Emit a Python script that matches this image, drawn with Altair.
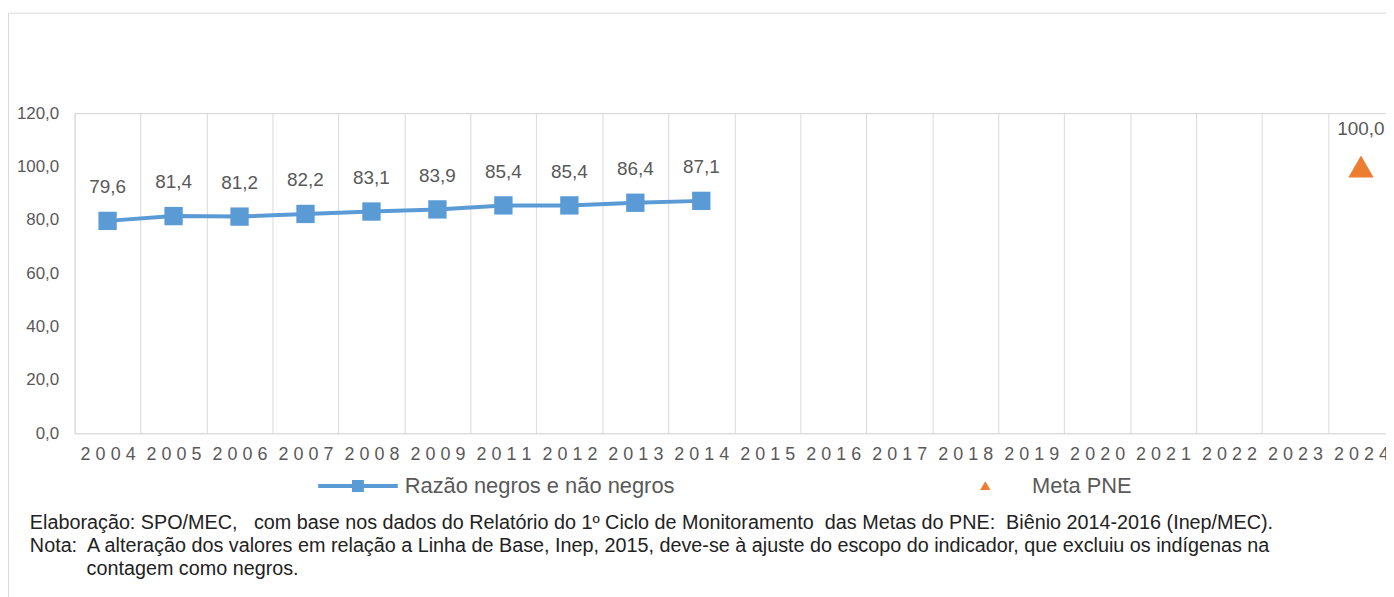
import altair as alt
import pandas as pd

years = ["2004", "2005", "2006", "2007", "2008", "2009", "2011", "2012", "2013", "2014",
         "2015", "2016", "2017", "2018", "2019", "2020", "2021", "2022", "2023", "2024"]
line_years = ["2004", "2005", "2006", "2007", "2008", "2009", "2011", "2012", "2013", "2014"]
line_values = [79.6, 81.4, 81.2, 82.2, 83.1, 83.9, 85.4, 85.4, 86.4, 87.1]
meta_years = ["2024"]
meta_values = [100.0]
series_names = ["Razão negros e não negros", "Meta PNE"]
y_ticks = [0, 20, 40, 60, 80, 100, 120]

footnote_main = [
    "Elaboração: SPO/MEC,\u00a0\u00a0 com base nos dados do Relatório do 1º Ciclo de Monitoramento\u00a0 das Metas do PNE:\u00a0 Biênio 2014-2016 (Inep/MEC).",
    "Nota:\u00a0 A alteração dos valores em relação a Linha de Base, Inep, 2015, deve-se à ajuste do escopo do indicador, que excluiu os indígenas na",
]
footnote_cont = "contagem como negros."

BLUE = "#5B9BD5"
ORANGE = "#ED7D31"
GRID = "#d9d9d9"
LABEL = "#595959"
FONT = "Liberation Sans"

line_df = pd.DataFrame({"ano": line_years, "valor": line_values, "serie": series_names[0]})
meta_df = pd.DataFrame({"ano": meta_years, "valor": meta_values, "serie": series_names[1]})
legend_df = pd.DataFrame({"ano": [line_years[0], meta_years[0]],
                          "valor": [line_values[0], meta_values[0]],
                          "serie": series_names})

x_enc = alt.X(
    "ano:N",
    sort=years,
    scale=alt.Scale(domain=years, range=[0, 1327], paddingInner=0, paddingOuter=0),
    axis=alt.Axis(
        title=None, tickBand="extent", grid=True, gridColor=GRID, gridWidth=1,
        ticks=False, domain=True, domainColor=GRID, labelAngle=0,
        labelPadding=12, labelFontSize=18, labelColor=LABEL, labelFont=FONT,
        labelExpr="join(split(datum.label, ''), '\u2009\u200a')",
    ),
)
y_enc = alt.Y(
    "valor:Q",
    scale=alt.Scale(domain=[0, 120], nice=False, zero=True),
    axis=alt.Axis(
        title=None, values=y_ticks, grid=True, gridColor=GRID,
        gridOpacity={"condition": {"test": "datum.value === 120", "value": 1}, "value": 0},
        domain=False, ticks=False, labelPadding=16, labelFontSize=17,
        labelColor=LABEL, labelFont=FONT,
        labelExpr="replace(format(datum.value, '.1f'), '.', ',')",
    ),
)

frame = alt.Chart(pd.DataFrame({"k": [0]})).mark_rect(
    fill="white", fillOpacity=0, stroke=GRID, strokeWidth=1
).encode(
    x=alt.value(-66.5), x2=alt.value(3000), y=alt.value(-100.5), y2=alt.value(3000)
)

line = alt.Chart(line_df).mark_line(color=BLUE, strokeWidth=4).encode(x=x_enc, y=y_enc)
squares = alt.Chart(line_df).mark_point(
    shape="square", filled=True, color=BLUE, size=340, opacity=1
).encode(x="ano:N", y="valor:Q")
line_labels = alt.Chart(line_df).mark_text(
    dy=-34, fontSize=19, color=LABEL, font=FONT, baseline="middle"
).encode(x="ano:N", y="valor:Q",
         text=alt.Text("label:N")).transform_calculate(
    label="replace(format(datum.valor, '.1f'), '.', ',')"
)

tri = alt.Chart(meta_df).mark_point(
    shape="triangle-up", filled=True, color=ORANGE, size=650, opacity=1
).encode(x="ano:N", y="valor:Q")
meta_labels = alt.Chart(meta_df).mark_text(
    dy=-38, fontSize=19, color=LABEL, font=FONT, baseline="middle"
).encode(x="ano:N", y="valor:Q", text=alt.Text("label:N")).transform_calculate(
    label="replace(format(datum.valor, '.1f'), '.', ',')"
)

line_symbol = ("M-1,-0.05L1,-0.05L1,0.05L-1,0.05Z"
               "M-0.15,-0.15L0.15,-0.15L0.15,0.15L-0.15,0.15Z")
tri_symbol = "M0,-0.12L0.13,0.1L-0.13,0.1Z"

legend_layer = alt.Chart(legend_df).mark_point(filled=True, opacity=0).encode(
    x="ano:N", y="valor:Q",
    color=alt.Color("serie:N", scale=alt.Scale(domain=series_names, range=[BLUE, ORANGE]),
                    legend=alt.Legend(
                        title=None, orient="none", legendX=245, legendY=335,
                        direction="horizontal", symbolSize=6400, symbolOpacity=1,
                        symbolStrokeWidth=0, labelFontSize=22, labelColor=LABEL,
                        labelFont=FONT, labelOffset=7, columnPadding=272,
                        labelLimit=500, padding=0)),
    shape=alt.Shape("serie:N", scale=alt.Scale(domain=series_names, range=[line_symbol, tri_symbol]),
                    legend=None),
)

note = alt.Chart(pd.DataFrame({"k": [0]})).mark_text(
    text=footnote_main, align="left", baseline="alphabetic", fontSize=19.9, font=FONT,
    color="#222222", lineHeight=23,
).encode(x=alt.value(-45), y=alt.value(418.5))
note_cont = alt.Chart(pd.DataFrame({"k": [0]})).mark_text(
    text=footnote_cont, align="left", baseline="alphabetic", fontSize=19.9, font=FONT,
    color="#222222",
).encode(x=alt.value(12), y=alt.value(464.5))

chart = alt.layer(frame, line, squares, line_labels, tri, meta_labels, legend_layer,
                  note, note_cont).properties(
    width=1319, height=322,
    autosize=alt.AutoSizeParams(type="none"),
    padding={"left": 67, "top": 104, "right": 0, "bottom": 163},
).configure_view(stroke=None).configure(background="white")

chart.save("out.html", embed_options={"renderer": "svg", "actions": False})
